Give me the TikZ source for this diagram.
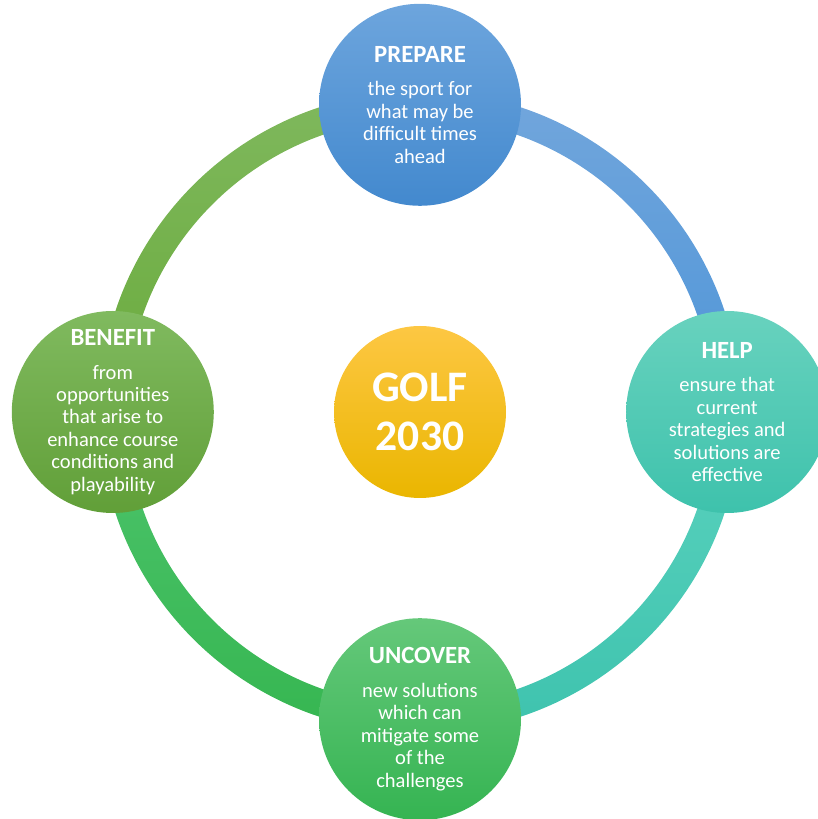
\documentclass[tikz,border=0pt]{standalone}
\usepackage{fontspec}
\setmainfont{Carlito}

% ring and circle colours (top / bottom of each gradient)
\definecolor{ringBlueT}{HTML}{72A6DC}
\definecolor{ringBlueB}{HTML}{4E95D8}
\definecolor{ringTealT}{HTML}{5BD2BE}
\definecolor{ringTealB}{HTML}{3EC3AE}
\definecolor{ringGreenT}{HTML}{4DC46C}
\definecolor{ringGreenB}{HTML}{36B651}
\definecolor{ringOliveT}{HTML}{7FB85D}
\definecolor{ringOliveB}{HTML}{6AAB3C}
\definecolor{prepT}{HTML}{6DA5DD}
\definecolor{prepB}{HTML}{4389CE}
\definecolor{helpT}{HTML}{68D2BE}
\definecolor{helpB}{HTML}{3EC2AC}
\definecolor{uncT}{HTML}{65C87A}
\definecolor{uncB}{HTML}{35B452}
\definecolor{benT}{HTML}{80BA5F}
\definecolor{benB}{HTML}{619F38}
\definecolor{golfT}{HTML}{FDC743}
\definecolor{golfM}{HTML}{FFC000}
\definecolor{golfB}{HTML}{EAB600}

\newcommand{\headfont}{\fontsize{17.6}{16}\selectfont\bfseries}

\begin{document}
\begin{tikzpicture}[
    % negative inner sep keeps the long lines from growing the circle
    stage/.style={circle,minimum size=5.05cm,inner sep=-20pt,text=white,
        align=center,font=\fontsize{14.6}{16}\selectfont},
    hub/.style={circle,minimum size=4.3cm,inner sep=0pt,text=white,
        align=center,font=\fontsize{31}{35}\selectfont\bfseries}
    ]
    \useasboundingbox (-10.5,-10.175) rectangle (9.95,10.3);
    \def\R{7.68}
    \def\Rin{7.34} \def\Rout{8.02}

    % the ring, one shaded quarter at a time
    \foreach \a/\ct/\cb in {0/ringBlueT/ringBlueB,
                            90/ringOliveT/ringOliveB,
                            180/ringGreenT/ringGreenB,
                            270/ringTealT/ringTealB}{
        \shade[top color=\ct,bottom color=\cb]
            (\a:\Rin) arc[start angle=\a,delta angle=90,radius=\Rin]
            -- ({\a+90}:\Rout) arc[start angle={\a+90},delta angle=-90,radius=\Rout]
            -- cycle;
    }

    \node[hub,top color=golfT,middle color=golfM,bottom color=golfB] (golf) at (0,0)
        {GOLF\\2030};

    \node[stage,top color=prepT,bottom color=prepB] (prepare) at (90:\R)
        {{\headfont PREPARE}\\[8pt]
         the sport for\\what may be\\difficult times\\ahead};
    \node[stage,top color=helpT,bottom color=helpB] (help) at (0:\R)
        {{\headfont HELP}\\[8pt]
         ensure that\\current\\strategies and\\solutions are\\effective};
    \node[stage,top color=uncT,bottom color=uncB] (uncover) at (270:\R)
        {{\headfont UNCOVER}\\[8pt]
         new solutions\\which can\\mitigate some\\of the\\challenges};
    \node[stage,top color=benT,bottom color=benB] (benefit) at (180:\R)
        {{\headfont BENEFIT}\\[8pt]
         from\\opportunities\\that arise to\\enhance course\\conditions and\\playability};
\end{tikzpicture}
\end{document}
